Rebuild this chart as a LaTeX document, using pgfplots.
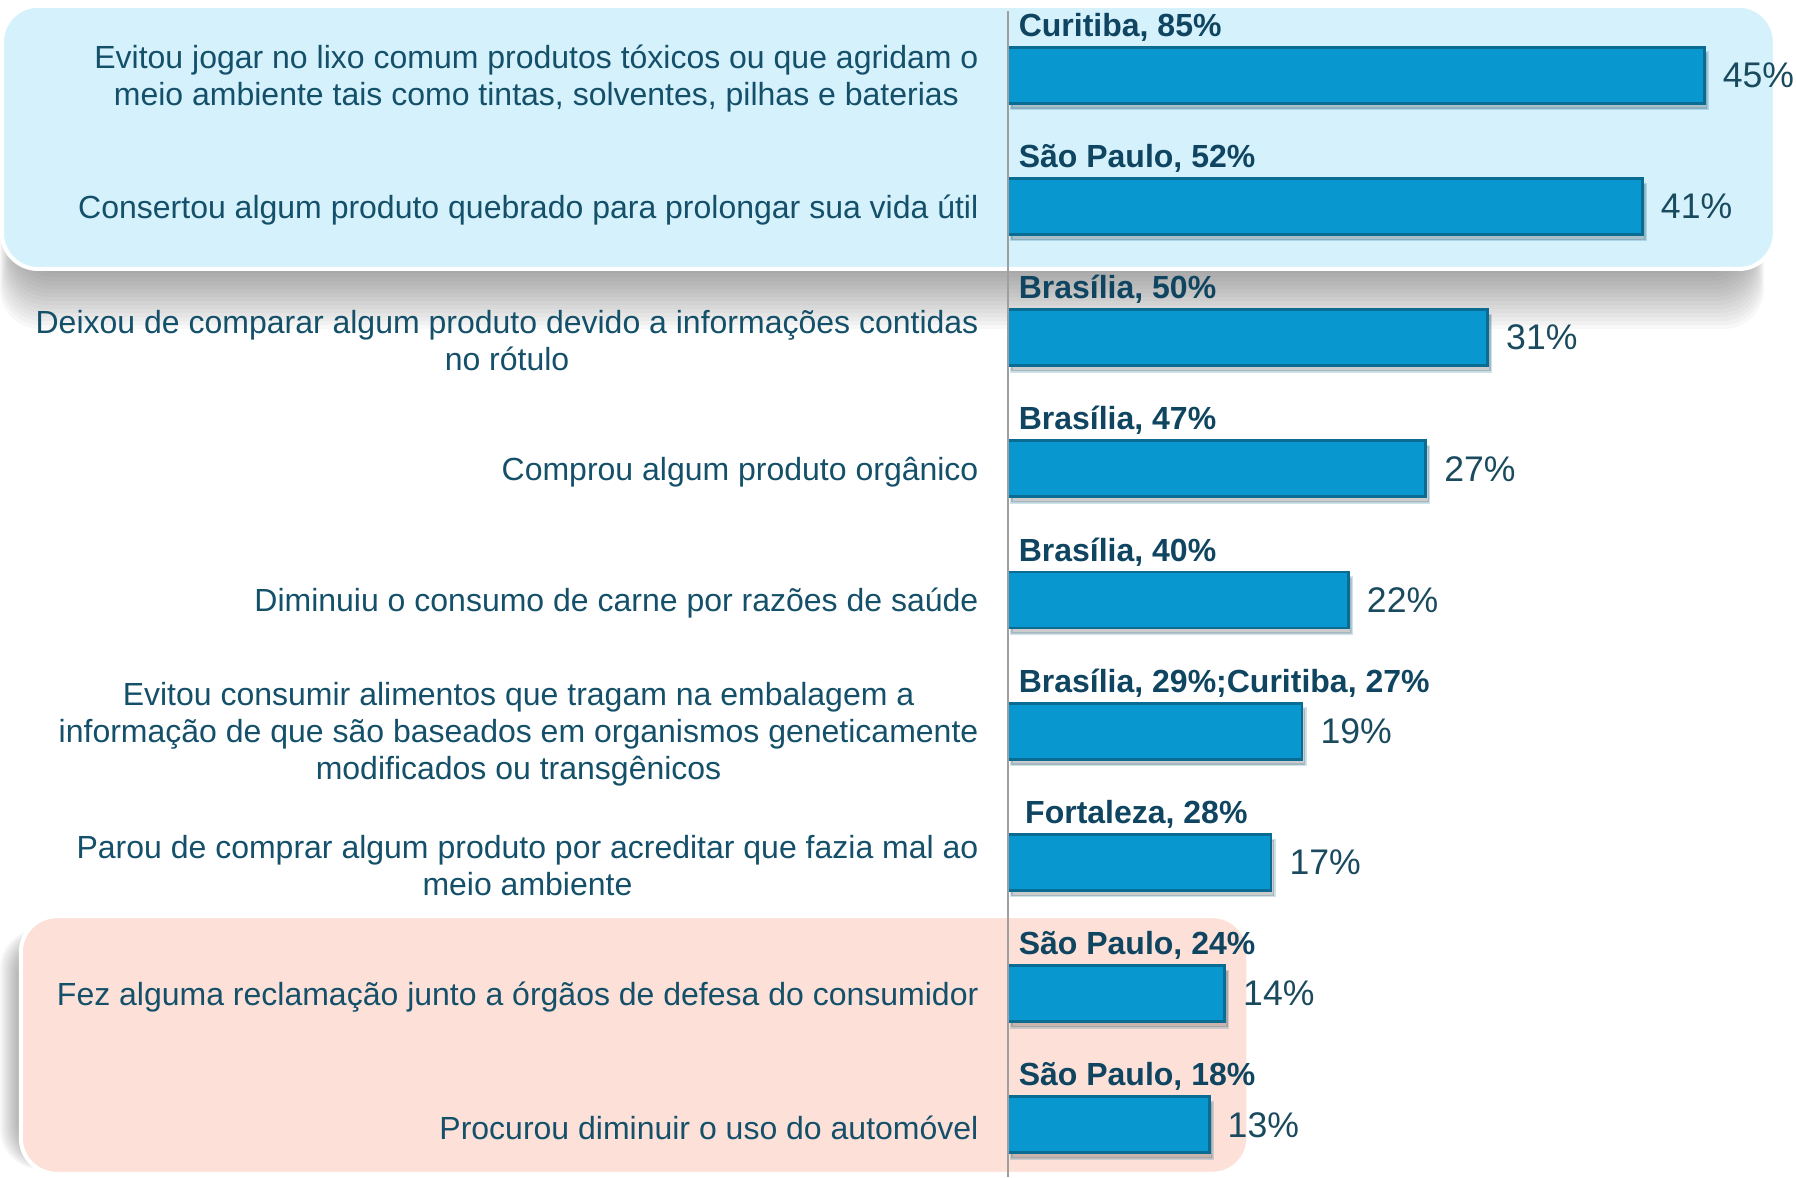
\documentclass[border=0pt]{standalone}
\usepackage{pgfplots}
\pgfplotsset{compat=1.18}
\usepackage{fontspec}
\setmainfont{Liberation Sans}
\definecolor{barblue}{HTML}{0898CF}
\definecolor{bardark}{HTML}{0B6C93}
\definecolor{barlight}{HTML}{45BCE8}
\definecolor{cattext}{HTML}{145069}
\definecolor{citytext}{HTML}{0F4560}
\definecolor{valtext}{HTML}{1A4A5E}
\definecolor{boxblue}{HTML}{D4F1FC}
\definecolor{boxpink}{HTML}{FDE1D8}
\tikzset{city/.style={anchor=base west, inner sep=0pt, xshift=2.5pt, yshift=9.7pt, font=\fontsize{8}{9.6}\selectfont\bfseries, text=citytext}}
\begin{document}
\begin{tikzpicture}
\useasboundingbox (0,0) rectangle (449pt,294.25pt);
% shadow of the blue box
\foreach \k in {0,...,15} {
  \fill[black, opacity=0.027, rounded corners=10pt] ({0pt+0.25pt*\k}, {212pt+1.0pt*\k}) rectangle ({441pt-0.25pt*\k}, 280pt);
}
\fill[boxblue, draw=white, line width=1pt, rounded corners=9pt] (0.5pt,227pt) rectangle (443.7pt,292.8pt);
% shadow of the pink box
\foreach \k in {0,...,11} {
  \fill[black, opacity=0.03, rounded corners=10pt] ({0pt+0.45pt*\k}, {2pt+0.2pt*\k}) rectangle (250pt, {62pt-0.2pt*\k});
}
\fill[boxpink, draw=white, line width=1pt, rounded corners=9pt] (5.2pt,0.8pt) rectangle (312.1pt,65.2pt);
\begin{axis}[
  at={(252pt,0pt)}, anchor=south west,
  scale only axis, width=193.4pt, height=291.4pt,
  xmin=0, xmax=50, ymin=-0.398, ymax=8.486,
  axis line style={draw=none},
  xtick=\empty, ytick={0,...,8}, major tick length=0pt,
  yticklabels={
    {Procurou diminuir o uso do automóvel},
    {Fez alguma reclamação junto a órgãos de defesa do consumidor},
    {Parou de comprar algum produto por acreditar que fazia mal ao\\meio ambiente},
    {Evitou consumir alimentos que tragam na embalagem a\\informação de que são baseados em organismos geneticamente\\modificados ou transgênicos},
    {Diminuiu o consumo de carne por razões de saúde},
    {Comprou algum produto orgânico},
    {Deixou de comparar algum produto devido a informações contidas\\no rótulo},
    {Consertou algum produto quebrado para prolongar sua vida útil},
    {Evitou jogar no lixo comum produtos tóxicos ou que agridam o\\meio ambiente tais como tintas, solventes, pilhas e baterias}
  },
  yticklabel style={font=\fontsize{8}{9.2}\selectfont, text=cattext, align=center, inner sep=0pt, xshift=-7.2pt, yshift=-0.8pt},
  /pgf/number format/assume math mode=true,
  clip=false,
]
\addplot[xbar, bar width=14pt, fill=barblue, draw=bardark, line width=0.7pt,
  preaction={fill=black, opacity=0.2, transform canvas={xshift=0.8pt, yshift=-1.4pt}},
  point meta=x,
  nodes near coords={\pgfmathprintnumber{\pgfplotspointmeta}\%},
  nodes near coords style={anchor=west, xshift=4.3pt, inner sep=0pt, font=\fontsize{8.9}{10}\selectfont, text=valtext}]
  table {
x y
45 8
41 7
31 6
27 5
22 4
19 3
17 2
14 1
13 0
};
\node[city] at (axis cs:0,8) {Curitiba, 85\%};
\node[city] at (axis cs:0,7) {São Paulo, 52\%};
\node[city] at (axis cs:0,6) {Brasília, 50\%};
\node[city] at (axis cs:0,5) {Brasília, 47\%};
\node[city] at (axis cs:0,4) {Brasília, 40\%};
\node[city] at (axis cs:0,3) {Brasília, 29\%;Curitiba, 27\%};
\node[city, xshift=1.6pt] at (axis cs:0,2) {Fortaleza, 28\%};
\node[city] at (axis cs:0,1) {São Paulo, 24\%};
\node[city] at (axis cs:0,0) {São Paulo, 18\%};
\draw[gray!75, line width=0.4pt] (axis cs:0,-0.398) -- (axis cs:0,8.486);
\end{axis}
\end{tikzpicture}
\end{document}
